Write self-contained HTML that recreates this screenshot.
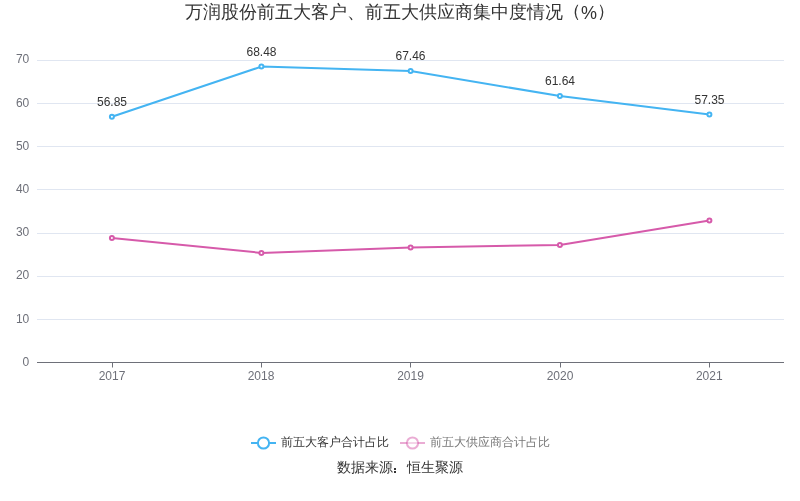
<!DOCTYPE html>
<html><head><meta charset="utf-8">
<style>
html,body{margin:0;padding:0;background:#fff;}
body{width:800px;height:501px;overflow:hidden;position:relative;font-family:"Liberation Sans",sans-serif;}
svg{position:absolute;left:0;top:0;will-change:transform;}
svg text{font-family:"Liberation Sans",sans-serif;}
</style></head><body>
<svg width="800" height="501" viewBox="0 0 800 501" xmlns="http://www.w3.org/2000/svg">
<text x="400" y="18" text-anchor="middle" font-size="18" fill="#333">万润股份前五大客户、前五大供应商集中度情况<tspan dy="-1">（</tspan><tspan dy="2">%</tspan><tspan dy="-2">）</tspan></text>
<g stroke="#E0E6F1" stroke-width="1" fill="none">
<path d="M37 60.5H784M37 103.5H784M37 146.5H784M37 189.5H784M37 233.5H784M37 276.5H784M37 319.5H784"/>
</g>
<path d="M37 362.5H784" stroke="#6E7079" stroke-width="1"/>
<g stroke="#6E7079" stroke-width="1">
<path d="M112.5 362V367.5M261.5 362V367.5M410.5 362V367.5M560.5 362V367.5M709.5 362V367.5"/>
</g>
<g font-size="12" fill="#6E7079" text-anchor="end">
<text x="29.3" y="63">70</text>
<text x="29.3" y="107">60</text>
<text x="29.3" y="150">50</text>
<text x="29.3" y="193">40</text>
<text x="29.3" y="236">30</text>
<text x="29.3" y="279">20</text>
<text x="29.3" y="323">10</text>
<text x="29.3" y="366">0</text>
</g>
<g font-size="12" fill="#6E7079" text-anchor="middle">
<text x="112" y="380">2017</text>
<text x="261" y="380">2018</text>
<text x="410.5" y="380">2019</text>
<text x="560" y="380">2020</text>
<text x="709.3" y="380">2021</text>
</g>
<polyline points="111.9,116.7 261.4,66.6 410.6,71.0 559.9,96.1 709.4,114.6" fill="none" stroke="#44B4F2" stroke-width="2" stroke-linejoin="round"/>
<polyline points="111.9,237.9 261.4,252.9 410.6,247.6 559.9,244.9 709.4,220.5" fill="none" stroke="#D65AAA" stroke-width="2" stroke-linejoin="round"/>
<g fill="#fff" stroke="#44B4F2" stroke-width="2">
<circle cx="111.9" cy="116.7" r="2"/><circle cx="261.4" cy="66.6" r="2"/><circle cx="410.6" cy="71.0" r="2"/><circle cx="559.9" cy="96.1" r="2"/><circle cx="709.4" cy="114.6" r="2"/>
</g>
<g fill="#fff" stroke="#D65AAA" stroke-width="2">
<circle cx="111.9" cy="237.9" r="2"/><circle cx="261.4" cy="252.9" r="2"/><circle cx="410.6" cy="247.6" r="2"/><circle cx="559.9" cy="244.9" r="2"/><circle cx="709.4" cy="220.5" r="2"/>
</g>
<g font-size="12" fill="#333" text-anchor="middle">
<text x="112" y="106">56.85</text>
<text x="261.5" y="56">68.48</text>
<text x="410.5" y="60">67.46</text>
<text x="560" y="85">61.64</text>
<text x="709.5" y="104">57.35</text>
</g>
<g>
<path d="M251 443H276" stroke="#44B4F2" stroke-width="2"/>
<circle cx="263.5" cy="443" r="5.6" fill="#fff" stroke="#44B4F2" stroke-width="2"/>
<text x="281" y="446" font-size="12" fill="#333">前五大客户合计占比</text>
<path d="M400 443H425" stroke="#D65AAA" stroke-width="2" opacity="0.5"/>
<circle cx="412.5" cy="443" r="5.6" fill="#fff" fill-opacity="0.5" stroke="#D65AAA" stroke-opacity="0.5" stroke-width="2"/>
<text x="430" y="446" font-size="12" fill="#777">前五大供应商合计占比</text>
</g>
<text x="337" y="472" font-size="14" fill="#333">数据来源</text><rect x="394" y="468" width="2" height="2" fill="#333"/><rect x="394" y="471" width="2" height="2" fill="#333"/><text x="407" y="472" font-size="14" fill="#333">恒生聚源</text>
</svg>
</body></html>
